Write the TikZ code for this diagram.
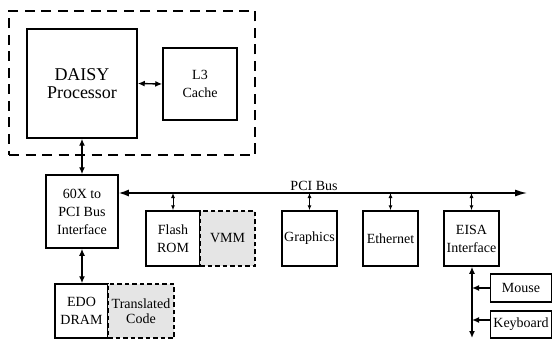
\documentclass[tikz,border=0pt]{standalone}
\usepackage{fontspec}
\setmainfont{Liberation Serif}
\newfontfamily\tms{Liberation Serif}
\usetikzlibrary{arrows.meta}
\begin{document}
\begin{tikzpicture}[x=1pt,y=-1pt,
  blk/.style={draw,line width=1.5pt,inner sep=0pt,align=center,font=\tms\fontsize{14}{18}\selectfont},
  gblk/.style={blk,fill=black!10,dash pattern=on 4.5pt off 3pt},
  conn/.style={line width=1.4pt,{Latex[length=7pt,width=6pt]}-{Latex[length=7pt,width=6pt]}},
  tap/.style={line width=1pt,{Latex[length=5pt,width=4pt]}-{Latex[length=5pt,width=4pt]}},
  big/.style={line width=1.4pt}]
\useasboundingbox (0,0) rectangle (553,339);
% dashed group
\node[draw,line width=1.6pt,dash pattern=on 10pt off 6.5pt,minimum width=246pt,minimum height=144pt,inner sep=0pt] (grp) at (132,83) {};
\node[blk,minimum width=110pt,minimum height=109pt,font=\tms\fontsize{18}{18}\selectfont] (daisy) at (82,83.5) {DAISY\\Processor};
\node[blk,minimum width=74pt,minimum height=72pt] (l3) at (200,84) {L3\\Cache};
\node[blk,minimum width=72pt,minimum height=73pt] (pci) at (82,211.5) {60X to\\PCI Bus\\Interface};
\node[blk,minimum width=54pt,minimum height=55pt] (flash) at (173,238.5) {Flash\\ROM};
\node[gblk,minimum width=55pt,minimum height=55pt] (vmm) at (227.5,238.5) {VMM};
\node[blk,minimum width=55pt,minimum height=55pt] (gfx) at (309.5,238.5) {Graphics};
\node[blk,minimum width=55pt,minimum height=55pt] (eth) at (390.5,238.5) {Ethernet};
\node[blk,minimum width=55pt,minimum height=55pt] (eisa) at (471.5,238.5) {EISA\\Interface};
\node[blk,minimum width=53pt,minimum height=54pt] (edo) at (81.5,311) {EDO\\DRAM};
\node[gblk,minimum width=66pt,minimum height=54pt,font=\tms\fontsize{14}{15}\selectfont] (trans) at (141,311) {Translated\\Code};
\node[blk,minimum width=61pt,minimum height=28pt] (mouse) at (521,288) {Mouse};
\node[blk,minimum width=61pt,minimum height=27pt] (kbd) at (521,324.5) {Keyboard};
% connectors
\draw[conn] (daisy.east) -- (l3.west);
\draw[conn] (daisy.south) -- (pci.north);
\draw[conn] (pci.south) -- (pci.south |- edo.north);
\coordinate (busend) at (527,193);
\draw[big,{Latex[length=10pt,width=7pt]}-{Latex[length=12pt,width=7pt]}] (busend -| pci.east) -- (busend);
\node[font=\tms\fontsize{14}{17}\selectfont,anchor=base,inner sep=0pt] (buslbl) at (314,190) {PCI Bus};
\draw[tap] (flash.north |- busend) -- (flash.north);
\draw[tap] (gfx.north |- busend) -- (gfx.north);
\draw[tap] (eth.north |- busend) -- (eth.north);
\draw[tap] (eisa.north |- busend) -- (eisa.north);
\coordinate (eisaend) at (472,338);
\draw[conn] (eisa.south -| eisaend) -- (eisaend);
\draw[big,-{Latex[length=7pt,width=6pt]}] (mouse.west) -- (mouse.west -| eisaend);
\draw[big,-{Latex[length=7pt,width=6pt]}] (kbd.west |- 0,320) -- (eisaend |- 0,320);
\end{tikzpicture}
\end{document}
